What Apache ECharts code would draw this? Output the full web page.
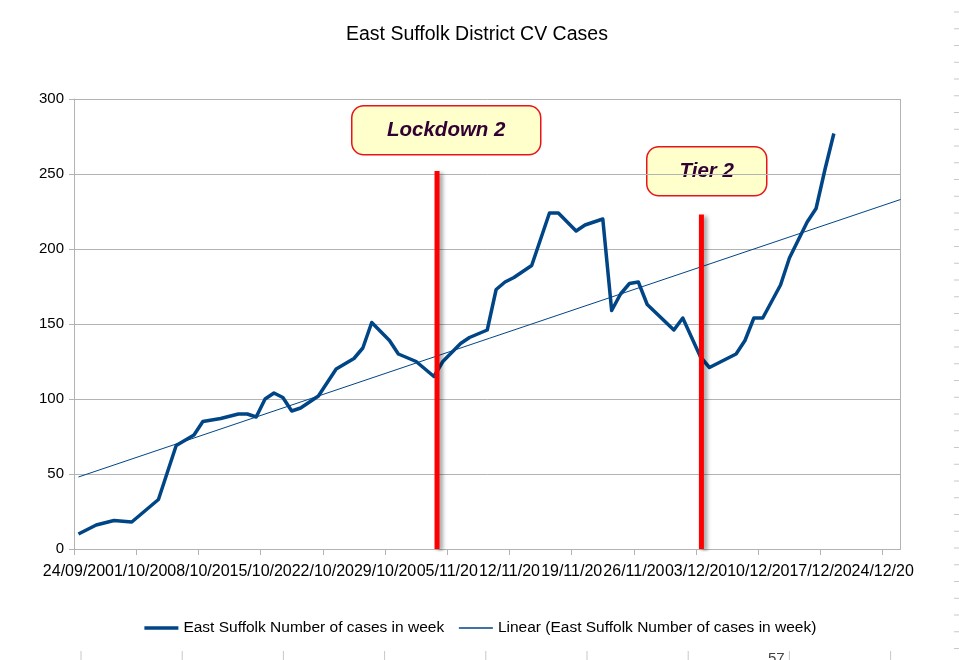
<!DOCTYPE html>
<html lang="en">
  <head>
    <meta charset="UTF-8" />
    <title>East Suffolk District CV Cases</title>
    <script src="https://cdn.jsdelivr.net/npm/echarts@6/dist/echarts.min.js"></script>
    <style>
      html, body { margin: 0; padding: 0; background: #fff; }
      #main { width: 959px; height: 660px; }
    </style>
  </head>
  <body>
    <div id="main"></div>
    <script>
      // dates (dd/mm/yy) and weekly case counts
      var dates = [
        "24/09/20", "26/09/20", "28/09/20", "30/09/20", "03/10/20", "05/10/20",
        "07/10/20", "08/10/20", "10/10/20", "12/10/20", "13/10/20", "14/10/20",
        "15/10/20", "16/10/20", "17/10/20", "18/10/20", "19/10/20", "21/10/20",
        "23/10/20", "25/10/20", "26/10/20", "27/10/20", "29/10/20", "30/10/20",
        "01/11/20", "02/11/20", "03/11/20", "04/11/20", "05/11/20", "06/11/20",
        "07/11/20", "09/11/20", "10/11/20", "11/11/20", "12/11/20", "14/11/20",
        "16/11/20", "17/11/20", "19/11/20", "20/11/20", "22/11/20", "23/11/20",
        "24/11/20", "25/11/20", "26/11/20", "27/11/20", "30/11/20", "01/12/20",
        "02/12/20", "03/12/20", "04/12/20", "07/12/20", "08/12/20", "09/12/20",
        "10/12/20", "12/12/20", "13/12/20", "15/12/20", "16/12/20", "17/12/20",
        "18/12/20"
      ];
      var cases = [
        10, 16, 19, 18, 33, 69,
        76, 85, 87, 90, 90, 88,
        100, 104, 101, 92, 94, 102,
        120, 127, 134, 151, 139, 130,
        125, 120, 115, 125, 131, 137,
        141, 146, 173, 178, 181, 189,
        224, 224, 212, 216, 220, 159,
        170, 177, 178, 163, 146, 154,
        141, 128, 121, 130, 139, 154,
        154, 176, 194, 218, 227, 253,
        277
      ];
      // linear trend: value at first point and at the end of the axis
      var trendValues = [48, 233];

      // red marker lines: position in days from 24/09/20, height in cases
      var markerDays = [40.85, 70.6];
      var markerTops = [252, 223];
      var markerLabels = ["Lockdown 2", "Tier 2"];

      var seriesName = "East Suffolk Number of cases in week";
      var trendName = "Linear (East Suffolk Number of cases in week)";
      var font = "Liberation Sans, Arial, sans-serif";

      var DAY = 86400000;
      var origin = Date.UTC(2020, 8, 24);
      var axisDays = 93;

      function dayOffset(s) {
        var p = s.split("/").map(Number);
        return (Date.UTC(2000 + p[2], p[1] - 1, p[0]) - origin) / DAY;
      }
      function pad(n) { return (n < 10 ? "0" : "") + n; }
      function fmtDay(v) {
        var d = new Date(origin + Math.round(v) * DAY);
        return pad(d.getUTCDate()) + "/" + pad(d.getUTCMonth() + 1) + "/" + pad(d.getUTCFullYear() % 100);
      }

      // points sit in the middle of their day, as in the spreadsheet chart
      var lineData = [];
      for (var i = 0; i < dates.length; i++) {
        lineData.push([dayOffset(dates[i]) + 0.5, cases[i]]);
      }
      var weekTicks = [];
      for (var k = 0; k <= axisDays; k += 7) weekTicks.push(k);

      var markerSeries = markerDays.map(function (d, i) {
        return {
          name: markerLabels[i],
          type: "line",
          symbol: "none",
          z: 5,
          lineStyle: {
            color: "#ff0000",
            width: 5,
            cap: "butt",
            shadowColor: "rgba(0,0,0,0.4)",
            shadowBlur: 4,
            shadowOffsetX: 3,
            shadowOffsetY: 2
          },
          data: [[d, 0], [d, markerTops[i]]],
          silent: true
        };
      });

      // spreadsheet cell edges showing round the chart
      var cellBits = [];
      for (var y = 12; y < 660; y += 16.75) {
        cellBits.push({ type: "line", shape: { x1: 954, y1: y, x2: 959, y2: y }, style: { stroke: "#c8c8c8", lineWidth: 1 } });
      }
      for (var x = 81; x < 900; x += 101.2) {
        cellBits.push({ type: "line", shape: { x1: x, y1: 651, x2: x, y2: 660 }, style: { stroke: "#c8c8c8", lineWidth: 1 } });
      }
      cellBits.push({ type: "text", left: 768, top: 651, style: { text: "57", font: "15px " + font, fill: "#444" } });

      function callout(x, y, w, h, text) {
        return {
          type: "group",
          left: x,
          top: y,
          z: 100,
          children: [
            {
              type: "rect",
              shape: { x: 0, y: 0, width: w, height: h, r: 12 },
              style: { fill: "#ffffcc", stroke: "#e8141a", lineWidth: 1.5 }
            },
            {
              type: "text",
              x: w / 2,
              y: h / 2,
              style: {
                text: text,
                font: "italic bold 20.5px " + font,
                fill: "#330033",
                align: "center",
                verticalAlign: "middle"
              }
            }
          ]
        };
      }

      var chartDom = document.getElementById("main");
      var myChart = echarts.init(chartDom);
      var option = {
        backgroundColor: "#fff",
        animation: false,
        title: {
          text: "East Suffolk District CV Cases",
          left: 341,
          top: 20,
          textStyle: { fontFamily: font, fontSize: 19.5, fontWeight: "normal", color: "#000" }
        },
        grid: { left: 74, right: 58.5, top: 99, bottom: 111 },
        legend: {
          data: [
            { name: seriesName, itemStyle: { opacity: 0 }, lineStyle: { width: 3.5 } },
            { name: trendName, itemStyle: { opacity: 0 }, lineStyle: { width: 1.5, color: "#004586" } }
          ],
          bottom: 19,
          left: "center",
          itemWidth: 34,
          itemHeight: 12,
          itemGap: 14,
          textStyle: { fontFamily: font, fontSize: 15.5, color: "#000" }
        },
        xAxis: {
          type: "value",
          min: 0,
          max: axisDays,
          interval: 7,
          splitLine: { show: false },
          axisLine: { show: true, lineStyle: { color: "#b3b3b3" } },
          axisTick: { show: true, length: 6, customValues: weekTicks, lineStyle: { color: "#b3b3b3" } },
          axisLabel: {
            customValues: weekTicks,
            margin: 15,
            fontFamily: font,
            fontSize: 16,
            color: "#000",
            formatter: fmtDay
          }
        },
        yAxis: {
          type: "value",
          min: 0,
          max: 300,
          interval: 50,
          splitLine: { show: true, lineStyle: { color: "#b3b3b3" } },
          axisLine: { show: true, lineStyle: { color: "#b3b3b3" } },
          axisTick: { show: true, length: 5, lineStyle: { color: "#b3b3b3" } },
          axisLabel: { margin: 10, fontFamily: font, fontSize: 15, color: "#000" }
        },
        graphic: [
          // right border of the plot area
          { type: "line", shape: { x1: 900.5, y1: 99, x2: 900.5, y2: 549 }, style: { stroke: "#b3b3b3", lineWidth: 1 }, z: 1 },
          callout(351, 105, 189, 49, markerLabels[0]),
          callout(646, 146, 120, 49, markerLabels[1])
        ].concat(cellBits),
        series: [
          {
            name: seriesName,
            type: "line",
            symbol: "none",
            z: 3,
            lineStyle: { color: "#004586", width: 3.5, join: "round" },
            itemStyle: { color: "#004586" },
            data: lineData
          },
          {
            name: trendName,
            type: "line",
            symbol: "none",
            z: 2,
            lineStyle: { color: "#004586", width: 1 },
            itemStyle: { color: "#004586" },
            data: [[lineData[0][0], trendValues[0]], [axisDays, trendValues[1]]]
          }
        ].concat(markerSeries)
      };
      option && myChart.setOption(option);
    </script>
  </body>
</html>
